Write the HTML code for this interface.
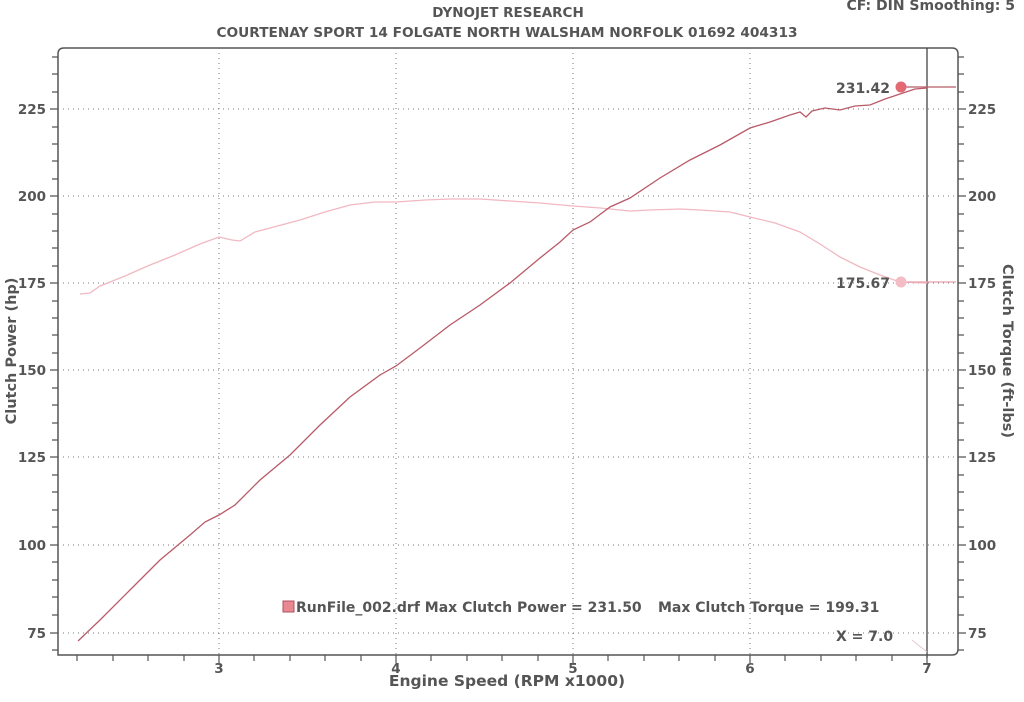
<!DOCTYPE html>
<html><head><meta charset="utf-8"><style>
html,body{margin:0;padding:0;background:#fff;}
svg{display:block;font-family:"DejaVu Sans","Liberation Sans",sans-serif;font-weight:bold;fill:#555;}
</style></head><body>
<svg width="1024" height="702" viewBox="0 0 1024 702" xmlns="http://www.w3.org/2000/svg">
<text x="508" y="17" text-anchor="middle" font-size="13.5" fill="#555">DYNOJET RESEARCH</text>
<text x="507" y="37" text-anchor="middle" font-size="13.7" fill="#555">COURTENAY SPORT 14 FOLGATE NORTH WALSHAM NORFOLK 01692 404313</text>
<text x="1015" y="10" text-anchor="end" font-size="14" fill="#555">CF: DIN  Smoothing: 5</text>
<path d="M58,655 L58,54 Q58,48 64,48 L952,48 Q958,48 958,54 L958,649 Q958,655 952,655 Z" fill="none" stroke="#555" stroke-width="1.5"/>
<g stroke="#777" stroke-width="1" stroke-dasharray="1,4">
<line x1="58" y1="109" x2="958" y2="109"/><line x1="58" y1="196" x2="958" y2="196"/>
<line x1="58" y1="283" x2="958" y2="283"/><line x1="58" y1="370" x2="958" y2="370"/>
<line x1="58" y1="457" x2="958" y2="457"/><line x1="58" y1="545" x2="958" y2="545"/>
<line x1="58" y1="633" x2="958" y2="633"/>
<line x1="219" y1="48" x2="219" y2="655"/><line x1="396" y1="48" x2="396" y2="655"/>
<line x1="573" y1="48" x2="573" y2="655"/><line x1="750" y1="48" x2="750" y2="655"/>
</g>
<line x1="927" y1="48" x2="927" y2="658" stroke="#444" stroke-width="1.3"/>
<g stroke="#555" stroke-width="1.2">
<path d="M52,57h6M52,74h6M52,92h6M50,109h8M52,127h6M52,144h6M52,161h6M52,179h6M50,196h8M52,214h6M52,231h6M52,248h6M52,266h6M50,283h8M52,301h6M52,318h6M52,335h6M52,353h6M50,370h8M52,388h6M52,405h6M52,423h6M52,440h6M50,457h8M52,475h6M52,492h6M52,510h6M52,527h6M50,545h8M52,562h6M52,580h6M52,597h6M52,615h6M50,633h8M52,650h6"/>
<path d="M958,57h6M958,74h6M958,92h6M958,109h8M958,127h6M958,144h6M958,161h6M958,179h6M958,196h8M958,214h6M958,231h6M958,248h6M958,266h6M958,283h8M958,301h6M958,318h6M958,335h6M958,353h6M958,370h8M958,388h6M958,405h6M958,423h6M958,440h6M958,457h8M958,475h6M958,492h6M958,510h6M958,527h6M958,545h8M958,562h6M958,580h6M958,597h6M958,615h6M958,633h8M958,650h6"/>
<path d="M77,655v6M113,655v6M148,655v6M184,655v6M219,655v8M254,655v6M290,655v6M325,655v6M361,655v6M396,655v8M431,655v6M467,655v6M502,655v6M538,655v6M573,655v8M608,655v6M644,655v6M679,655v6M715,655v6M750,655v8M785,655v6M821,655v6M856,655v6M892,655v6M927,655v8"/>
</g>
<g font-size="13.5" text-anchor="end">
<text x="46" y="114">225</text><text x="46" y="201">200</text><text x="46" y="288">175</text>
<text x="46" y="375">150</text><text x="46" y="462">125</text><text x="46" y="550">100</text><text x="46" y="638">75</text>
</g>
<g font-size="13.5">
<text x="968" y="114">225</text><text x="968" y="201">200</text><text x="968" y="288">175</text>
<text x="968" y="375">150</text><text x="968" y="462">125</text><text x="968" y="550">100</text><text x="968" y="638">75</text>
</g>
<g font-size="13.5" text-anchor="middle">
<text x="219" y="673">3</text><text x="396" y="673">4</text><text x="573" y="673">5</text>
<text x="750" y="673">6</text><text x="927" y="673">7</text>
</g>
<text x="507" y="686" text-anchor="middle" font-size="15.5">Engine Speed (RPM x1000)</text>
<text transform="translate(16,351) rotate(-90)" text-anchor="middle" font-size="14.5">Clutch Power (hp)</text>
<text transform="translate(1003,351) rotate(90)" text-anchor="middle" font-size="14.5">Clutch Torque (ft-lbs)</text>
<polyline fill="none" stroke="#f2b8c2" stroke-width="1.3" points="80,294 90,293 100,286 125,276 150,265 175,255 200,244 219,237 232,240 240,241 255,232 270,228 300,220 325,212 350,205 375,202 396,202 425,200 450,199 480,199 510,201 540,203 573,206 600,208 630,211 650,210 680,209 700,210 730,212 750,217 775,223 800,232 820,244 840,257 860,267 880,275 900,282 927,283"/>
<polyline fill="none" stroke="#b85a68" stroke-width="1.3" points="78,641 100,620 130,590 160,560 190,535 205,522 219,515 235,505 260,480 290,455 320,425 350,397 380,375 396,366 420,348 450,325 480,305 510,283 540,258 560,242 573,230 590,222 610,207 630,198 660,178 690,160 720,145 750,128 770,122 790,115 800,112 806,117 812,111 825,108 840,110 855,106 870,105 885,99 900,94 915,89 927,88"/>
<line x1="900" y1="87" x2="956" y2="87" stroke="#b85a68" stroke-width="1.3"/>
<line x1="900" y1="282" x2="956" y2="282" stroke="#e8a0ac" stroke-width="1.3"/>
<line x1="912" y1="640" x2="927" y2="652" stroke="#e5c8cc" stroke-width="1"/>
<circle cx="901" cy="87" r="5.5" fill="#e36a72"/>
<circle cx="901" cy="282" r="5.5" fill="#f4bcc4"/>
<text x="890" y="93" text-anchor="end" font-size="14">231.42</text>
<text x="890" y="288" text-anchor="end" font-size="14">175.67</text>
<rect x="283" y="601" width="11" height="11" fill="#e88890" stroke="#b05060"/>
<text x="296" y="612" font-size="14">RunFile_002.drf Max Clutch Power = 231.50</text>
<text x="658" y="612" font-size="14">Max Clutch Torque = 199.31</text>
<text x="836" y="641" font-size="14">X = 7.0</text>
</svg>
</body></html>
